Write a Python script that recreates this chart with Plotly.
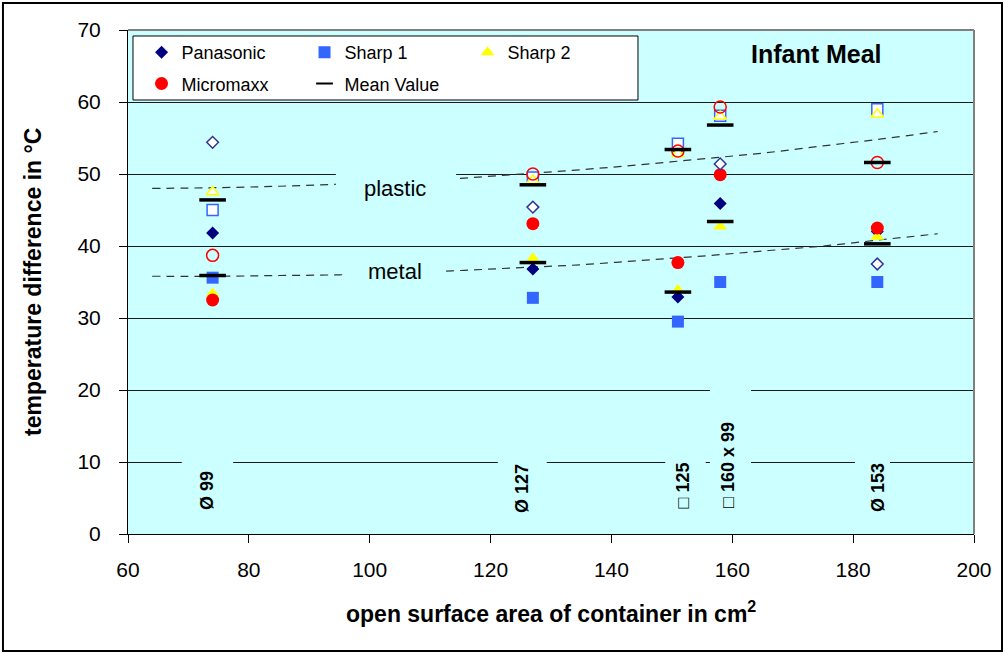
import plotly.graph_objects as go

# Open surface area of each container (cm²) and its label
area = [74, 127, 151, 158, 184]
container_labels = ["Ø 99", "Ø 127", "□ 125", "□ 160 x 99", "Ø 153"]

# Temperature difference (°C) in metal containers
panasonic_metal = [41.8, 36.8, 32.9, 45.9, 42.0]
sharp1_metal = [35.6, 32.8, 29.5, 35.0, 35.0]
sharp2_metal = [33.4, 38.3, 33.9, 42.7, 41.3]
micromaxx_metal = [32.5, 43.1, 37.7, 49.9, 42.5]
mean_metal = [35.9, 37.7, 33.6, 43.4, 40.3]

# Temperature difference (°C) in plastic containers
panasonic_plastic = [54.4, 45.4, 53.4, 51.4, 37.5]
sharp1_plastic = [45.0, 49.5, 54.2, 58.1, 59.0]
sharp2_plastic = [47.5, 49.1, 52.8, 58.0, 58.3]
micromaxx_plastic = [38.7, 50.0, 53.2, 59.3, 51.6]
mean_plastic = [46.4, 48.5, 53.4, 56.8, 51.6]

# Trend curves through the mean values
trend_x = [64, 75, 85, 95, 105, 115, 125, 135, 145, 155, 165, 175, 185, 194]
trend_plastic = [48.0, 48.1, 48.3, 48.6, 49.0, 49.4, 50.0, 50.6, 51.3, 52.1, 52.9, 53.9, 54.9, 55.9]
trend_metal = [35.8, 35.8, 35.9, 36.0, 36.3, 36.6, 37.0, 37.4, 38.0, 38.6, 39.3, 40.0, 40.9, 41.7]

FONT = "Liberation Sans, Arial, sans-serif"
CYAN = "#CCFFFF"
NAVY = "#000080"
BLUE = "#3366FF"
YELLOW = "#FFFF00"
RED = "#FF0000"

fig = go.Figure()

dash_style = dict(color="#333333", width=1.2, dash="8px,6px")
fig.add_trace(go.Scatter(x=trend_x, y=trend_plastic, mode="lines", line=dash_style,
                         line_shape="spline", showlegend=False, hoverinfo="skip"))
fig.add_trace(go.Scatter(x=trend_x, y=trend_metal, mode="lines", line=dash_style,
                         line_shape="spline", showlegend=False, hoverinfo="skip"))

series = [
    ("Panasonic", panasonic_metal, panasonic_plastic, "diamond", 10, NAVY, "#333399", "legend"),
    ("Sharp 1", sharp1_metal, sharp1_plastic, "square", 12, BLUE, BLUE, "legend"),
    ("Sharp 2", sharp2_metal, sharp2_plastic, "triangle-up", 12, YELLOW, YELLOW, "legend"),
    ("Micromaxx", micromaxx_metal, micromaxx_plastic, "circle", 13, RED, RED, "legend2"),
]

# filled markers: metal containers
for name, metal, _, sym, size, col, _, leg in series:
    fig.add_trace(go.Scatter(
        x=area, y=metal, mode="markers", name=name, legend=leg,
        marker=dict(symbol=sym, size=size, color=col, line=dict(width=0)),
    ))

# open markers: plastic containers
for name, _, plastic, sym, size, col, edge, leg in series:
    fill = "rgba(0,0,0,0)" if sym == "circle" else "white"
    fig.add_trace(go.Scatter(
        x=area, y=plastic, mode="markers", name=name + " (plastic)", showlegend=False,
        marker=dict(symbol=sym, size=size - 1, color=fill, line=dict(width=1.5, color=edge)),
    ))

# mean values as short black bars
for means in (mean_metal, mean_plastic):
    fig.add_trace(go.Scatter(
        x=area, y=means, mode="markers", showlegend=False,
        marker=dict(symbol="line-ew", size=19, line=dict(width=3.5, color="black")),
    ))

# legend entry for the mean bars
fig.add_trace(go.Scatter(
    x=[None], y=[None], mode="markers", name="Mean Value", legend="legend2",
    marker=dict(symbol="line-ew", size=12, line=dict(width=2, color="black")),
))

shapes = []
# label backgrounds that interrupt the gridlines
label_boxes = [
    (68.9, 77.4, 0.9, 11.0),
    (121.2, 129.3, 0.8, 11.7),
    (148.9, 155.6, 0.8, 11.7),
    (156.3, 163.1, 0.9, 21.4),
    (180.3, 186.1, 0.8, 11.7),
]
for x0, x1, y0, y1 in label_boxes:
    shapes.append(dict(type="rect", xref="x", yref="y", x0=x0, x1=x1, y0=y0, y1=y1,
                       fillcolor=CYAN, line=dict(width=0), layer="between"))
# backgrounds behind "plastic" / "metal"
shapes.append(dict(type="rect", xref="x", yref="y", x0=94.4, x1=114.3, y0=45.3, y1=50.8,
                   fillcolor=CYAN, line=dict(width=0), layer="above"))
shapes.append(dict(type="rect", xref="x", yref="y", x0=95.6, x1=112.1, y0=33.6, y1=39.2,
                   fillcolor=CYAN, line=dict(width=0), layer="above"))
# plot-area frame (top and right)
shapes.append(dict(type="line", xref="paper", yref="paper", x0=0, x1=1, y0=1, y1=1,
                   line=dict(color="#808080", width=2), layer="above"))
shapes.append(dict(type="line", xref="paper", yref="paper", x0=1, x1=1, y0=0, y1=1,
                   line=dict(color="#808080", width=2), layer="above"))
# legend box
shapes.append(dict(type="rect", xref="paper", yref="paper", x0=0.0059, x1=0.6028,
                   y0=0.8611, y1=0.9881, fillcolor="white", line=dict(color="black", width=1),
                   layer="above"))
# outer chart border
shapes.append(dict(type="rect", xref="paper", yref="paper", x0=-0.1478, x1=1.0331,
                   y0=-0.2321, y1=1.0536, line=dict(color="black", width=2),
                   fillcolor="rgba(0,0,0,0)", layer="above"))

annotations = []
label_pos = [(73.1, 6.0), (125.2, 6.4), (151.8, 6.7), (159.3, 9.6), (184.1, 6.5)]
for txt, (lx, ly) in zip(container_labels, label_pos):
    annotations.append(dict(x=lx, y=ly, xref="x", yref="y", text="<b>" + txt + "</b>",
                            textangle=-90, showarrow=False, xanchor="center", yanchor="middle",
                            font=dict(family=FONT, size=18, color="black")))
annotations.append(dict(x=104.2, y=48.0, xref="x", yref="y", text="plastic", showarrow=False,
                        font=dict(family=FONT, size=22, color="black")))
annotations.append(dict(x=104.2, y=36.4, xref="x", yref="y", text="metal", showarrow=False,
                        font=dict(family=FONT, size=22, color="black")))
annotations.append(dict(x=174.0, y=66.7, xref="x", yref="y", text="<b>Infant Meal</b>",
                        showarrow=False, font=dict(family=FONT, size=25, color="black")))
annotations.append(dict(x=-0.1123, y=0.5, xref="paper", yref="paper",
                        xanchor="center", yanchor="middle",
                        text="<b>temperature difference in °C</b>", textangle=-90,
                        showarrow=False, font=dict(family=FONT, size=23, color="black")))
annotations.append(dict(x=0.5, y=-0.1548, xref="paper", yref="paper",
                        xanchor="center", yanchor="middle",
                        text="<b>open surface area of container in cm<sup>2</sup></b>",
                        showarrow=False, font=dict(family=FONT, size=23, color="black")))

legend_common = dict(orientation="h", bgcolor="rgba(0,0,0,0)", borderwidth=0,
                     font=dict(family=FONT, size=18, color="black"),
                     entrywidth=118, entrywidthmode="pixels",
                     xanchor="left", yanchor="top", itemclick=False)

fig.update_layout(
    width=1005, height=653,
    margin=dict(l=128, r=31, t=30, b=119),
    paper_bgcolor="white", plot_bgcolor=CYAN,
    font=dict(family=FONT, size=20, color="black"),
    xaxis=dict(range=[60, 200], tickvals=[60, 80, 100, 120, 140, 160, 180, 200],
               showgrid=False, zeroline=False, showline=True, linecolor="black", linewidth=1,
               ticks="outside", ticklen=8, tickcolor="black", ticklabelstandoff=9,
               tickfont=dict(family=FONT, size=21, color="black")),
    yaxis=dict(range=[0, 70], dtick=10, showgrid=True, gridcolor="#1a1a1a", gridwidth=1,
               zeroline=False, showline=True, linecolor="black", linewidth=1,
               ticks="outside", ticklen=8, tickcolor="black", ticklabelstandoff=14,
               tickfont=dict(family=FONT, size=21, color="black")),
    legend=dict(x=0.016, y=0.992, **legend_common),
    legend2=dict(x=0.016, y=0.930, **legend_common),
    shapes=shapes,
    annotations=annotations,
)

fig.write_html("out.html")
